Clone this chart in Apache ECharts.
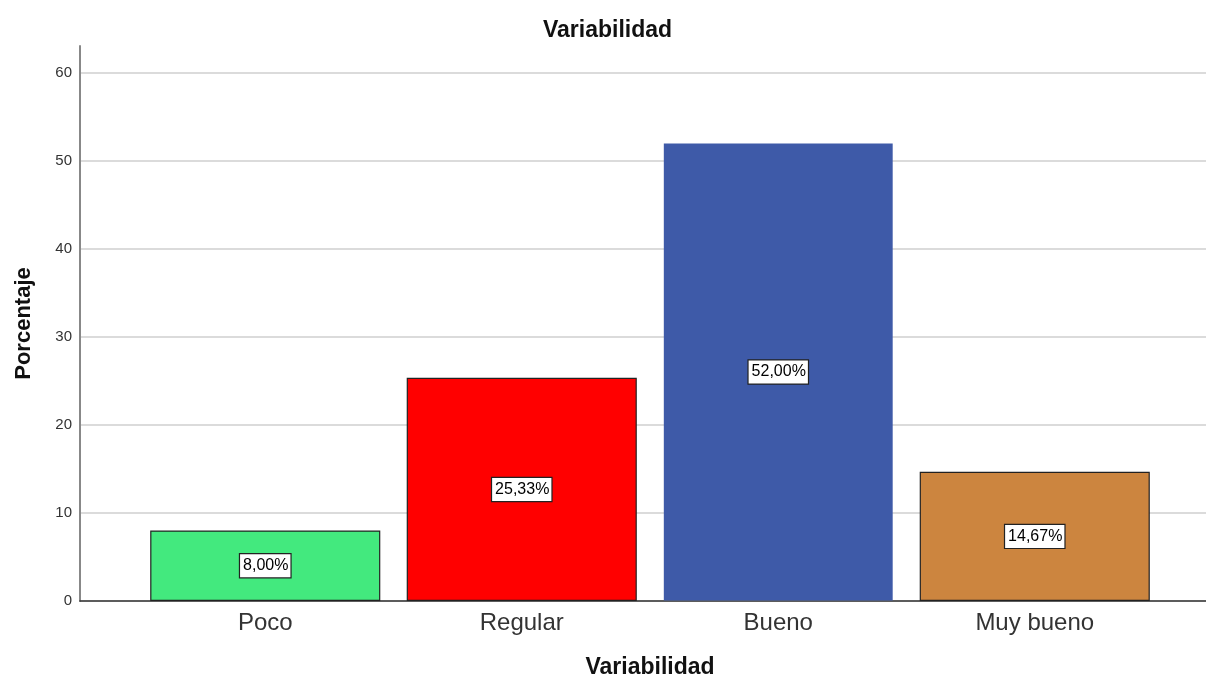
<!DOCTYPE html>
<html>
<head>
<meta charset="utf-8">
<script src="https://cdn.jsdelivr.net/npm/echarts@6/dist/echarts.min.js"></script>
<style>
html,body{margin:0;padding:0;background:#fff;}
#chart{width:1206px;height:676px;}
</style>
</head>
<body>
<div id="chart"></div>
<script>
// ---- data ----
const categories = ['Poco', 'Regular', 'Bueno', 'Muy bueno'];
const percentValues = [8.00, 25.33, 52.00, 14.67];
const chartTitle = 'Variabilidad';
const xAxisTitle = 'Variabilidad';
const yAxisTitle = 'Porcentaje';

// ---- styles ----
const barColors = ['#43E97E', '#FF0000', '#3E5AA8', '#CC853F'];
const barBorders = ['#222222', '#222222', 'rgba(0,0,0,0)', '#222222'];
const FONT = 'Arial, "Liberation Sans", sans-serif';

const chart = echarts.init(document.getElementById('chart'), null, {renderer: 'canvas'});

const option = {
  backgroundColor: '#ffffff',
  animation: false,
  title: {
    text: chartTitle,
    left: 538,
    top: 14,
    textStyle: {fontFamily: FONT, fontSize: 23, fontWeight: 'bold', color: '#111'}
  },
  grid: [
    {left: 80, right: 0, top: 46, bottom: 75, outerBoundsMode: 'none', containLabel: false},
    {left: 137, right: 43, top: 46, bottom: 75, outerBoundsMode: 'none', containLabel: false}
  ],
  xAxis: [
    {
      gridIndex: 0, type: 'category', data: categories,
      axisLine: {show: true, lineStyle: {color: '#333', width: 1.5}},
      axisTick: {show: false}, axisLabel: {show: false}, splitLine: {show: false}
    },
    {
      gridIndex: 1, type: 'category', data: categories,
      axisLine: {show: false}, axisTick: {show: false},
      axisLabel: {fontFamily: FONT, fontSize: 24, color: '#333', margin: 10},
      name: xAxisTitle, nameLocation: 'middle', nameGap: 55,
      nameTextStyle: {fontFamily: FONT, fontSize: 23, fontWeight: 'bold', color: '#111'}
    }
  ],
  yAxis: [
    {
      gridIndex: 0, type: 'value', min: 0, max: 63, interval: 10,
      axisLine: {show: true, lineStyle: {color: '#888', width: 2}},
      axisTick: {show: false},
      axisLabel: {fontFamily: FONT, fontSize: 15, color: '#333', margin: 8, showMaxLabel: false},
      splitLine: {show: true, showMaxLine: false, lineStyle: {color: '#cfcfcf', width: 1.5}},
      name: yAxisTitle, nameLocation: 'middle', nameGap: 45, nameRotate: 90,
      nameTextStyle: {fontFamily: FONT, fontSize: 22, fontWeight: 'bold', color: '#111'}
    },
    {
      gridIndex: 1, type: 'value', min: 0, max: 63, interval: 10,
      axisLine: {show: false}, axisTick: {show: false}, axisLabel: {show: false}, splitLine: {show: false}
    }
  ],
  series: [{
    type: 'bar',
    xAxisIndex: 1, yAxisIndex: 1,
    barCategoryGap: '10.3%',
    data: percentValues.map((v, i) => ({
      value: v,
      itemStyle: {color: barColors[i], borderColor: barBorders[i], borderWidth: 1.2}
    })),
    label: {
      show: true, position: 'inside',
      formatter: p => p.value.toFixed(2).replace('.', ',') + '%',
      fontFamily: FONT, fontSize: 16, color: '#000',
      backgroundColor: '#fff', borderColor: '#222', borderWidth: 1.2,
      padding: [4, 2, 3, 3]
    }
  }]
};
chart.setOption(option);
</script>
</body>
</html>
